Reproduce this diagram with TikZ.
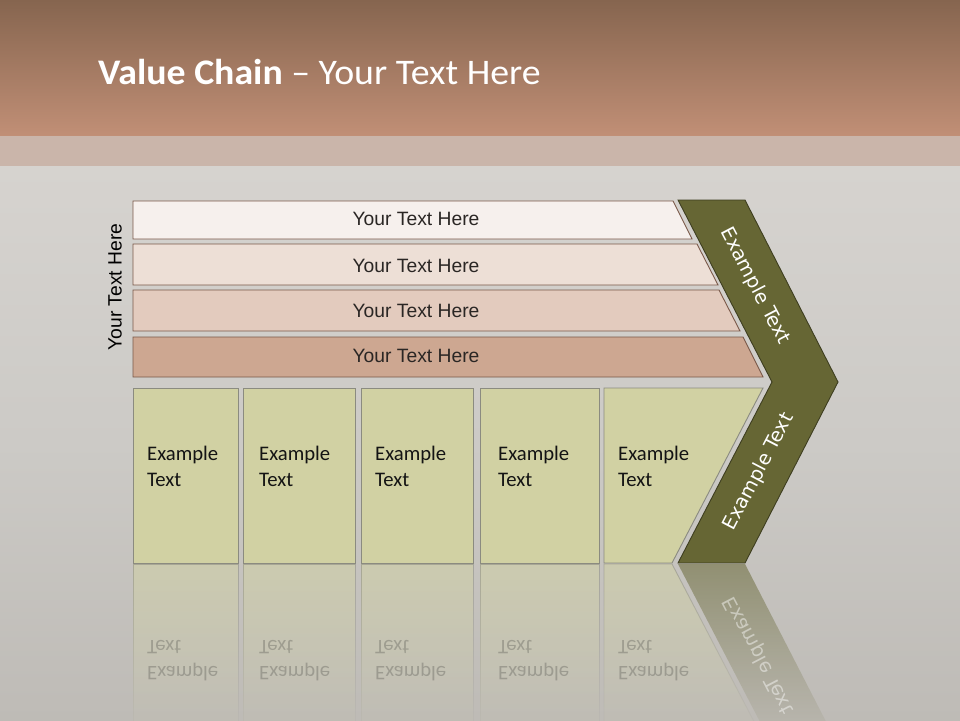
\documentclass[tikz,border=0pt]{standalone}
\usepackage{fontspec}
\setmainfont{Carlito}
\newfontfamily\rowfont{Liberation Sans}
\newfontfamily\chevfont{DejaVu Sans}
\usetikzlibrary{fadings}
\definecolor{hdrtop}{HTML}{86654F}
\definecolor{hdrbot}{HTML}{C18F76}
\definecolor{bandc}{HTML}{CAB5AA}
\definecolor{bgtop}{HTML}{D6D3CF}
\definecolor{bgmid}{HTML}{CCCAC6}
\definecolor{bgbot}{HTML}{BEBBB6}
\definecolor{rowa}{HTML}{F6F0ED}
\definecolor{rowb}{HTML}{EDDFD6}
\definecolor{rowc}{HTML}{E3CBBE}
\definecolor{rowd}{HTML}{CDA791}
\definecolor{rowline}{HTML}{7A5949}
\definecolor{boxfill}{HTML}{D1D1A3}
\definecolor{boxline}{HTML}{8B8B80}
\definecolor{chevfill}{HTML}{666634}
\definecolor{chevline}{HTML}{3E3E20}
\definecolor{txtdark}{HTML}{2A2624}
\tikzfading[name=reflfade, top color=transparent!45, middle color=transparent!88, bottom color=transparent!100]
\begin{document}
\begin{tikzpicture}[x=1pt,y=-1pt,
  rowshape/.style={draw=rowline, line width=0.9pt},
  rowtext/.style={font=\rowfont\fontsize{19.3}{23}\selectfont, text=txtdark, inner sep=0pt},
  boxshape/.style={fill=boxfill, draw=boxline, line width=0.9pt},
  boxtext/.style={font=\fontsize{20.7}{26}\selectfont, text=black!92, align=left, anchor=west, inner sep=0pt},
  chevshape/.style={fill=chevfill, draw=chevline, line width=0.9pt},
  chevtext/.style={font=\chevfont\fontsize{19.3}{23}\selectfont, text=white, inner sep=0pt},
  reflbox/.style={fill=boxfill, draw=boxline, line width=0.9pt, path fading=reflfade},
  reflchev/.style={fill=chevfill, path fading=reflfade},
]
\useasboundingbox (0,0) rectangle (960,720);
% background
\shade[top color=bgtop, bottom color=bgbot, middle color=bgmid] (0,166) rectangle (960,720);
\shade[top color=hdrtop, bottom color=hdrbot] (0,0) rectangle (960,136);
\fill[bandc] (0,136) rectangle (960,166);
% title
\node[anchor=base west, inner sep=0pt, text=white, font=\fontsize{36}{40}\selectfont\addfontfeature{FakeStretch=1.05}] (title) at (98,84) {\textbf{Value Chain} – Your Text Here};
% rows
\draw[rowshape, fill=rowa] (133,201) -- (673,201) -- (692,239) -- (133,239) -- cycle;
\draw[rowshape, fill=rowb] (133,244) -- (697,244) -- (718,285) -- (133,285) -- cycle;
\draw[rowshape, fill=rowc] (133,290) -- (719,290) -- (740,331) -- (133,331) -- cycle;
\draw[rowshape, fill=rowd] (133,337) -- (743,337) -- (763,377) -- (133,377) -- cycle;
\node[rowtext] (r1) at (416,219) {Your Text Here};
\node[rowtext] (r2) at (416,266) {Your Text Here};
\node[rowtext] (r3) at (416,311) {Your Text Here};
\node[rowtext] (r4) at (416,356) {Your Text Here};
\node[rowtext, text=black, rotate=90] (side) at (115,287) {Your Text Here};
% chevron
\draw[chevshape] (678,200) -- (745,200) -- (838,382) -- (745,563) -- (678,563) -- (772,382) -- cycle;
\node[chevtext, rotate=-62.5] (c1) at (755,286) {Example Text};
\node[chevtext, rotate=62.5] (c2) at (759,472) {Example Text};
% boxes
\draw[boxshape] (133,388) rectangle (238,563);
\draw[boxshape] (243,388) rectangle (355,563);
\draw[boxshape] (361,388) rectangle (473,563);
\draw[boxshape] (480,388) rectangle (599,563);
\draw[boxshape] (604,388) -- (763,388) -- (672,563) -- (604,563) -- cycle;
\node[boxtext] (b1) at (147,466) {Example\\Text};
\node[boxtext] (b2) at (259,466) {Example\\Text};
\node[boxtext] (b3) at (375,466) {Example\\Text};
\node[boxtext] (b4) at (498,466) {Example\\Text};
\node[boxtext] (b5) at (618,466) {Example\\Text};
% reflections
\path[reflbox] (133,564) rectangle (238,739);
\path[reflbox] (243,564) rectangle (355,739);
\path[reflbox] (361,564) rectangle (473,739);
\path[reflbox] (480,564) rectangle (599,739);
\path[reflbox] (604,564) -- (672,564) -- (763,739) -- (604,739) -- cycle;
\path[reflchev] (678,564) -- (745,564) -- (838,745) -- (772,745) -- cycle;
\begin{scope}[shift={(0,1127)}, yscale=-1]
  \node[boxtext, transform shape, opacity=0.22] (rb1) at (147,466) {Example\\Text};
  \node[boxtext, transform shape, opacity=0.22] (rb2) at (259,466) {Example\\Text};
  \node[boxtext, transform shape, opacity=0.22] (rb3) at (375,466) {Example\\Text};
  \node[boxtext, transform shape, opacity=0.22] (rb4) at (498,466) {Example\\Text};
  \node[boxtext, transform shape, opacity=0.22] (rb5) at (618,466) {Example\\Text};
  \node[chevtext, transform shape, rotate=62.5, opacity=0.45] (rc2) at (759,472) {Example Text};
\end{scope}
\end{tikzpicture}
\end{document}
